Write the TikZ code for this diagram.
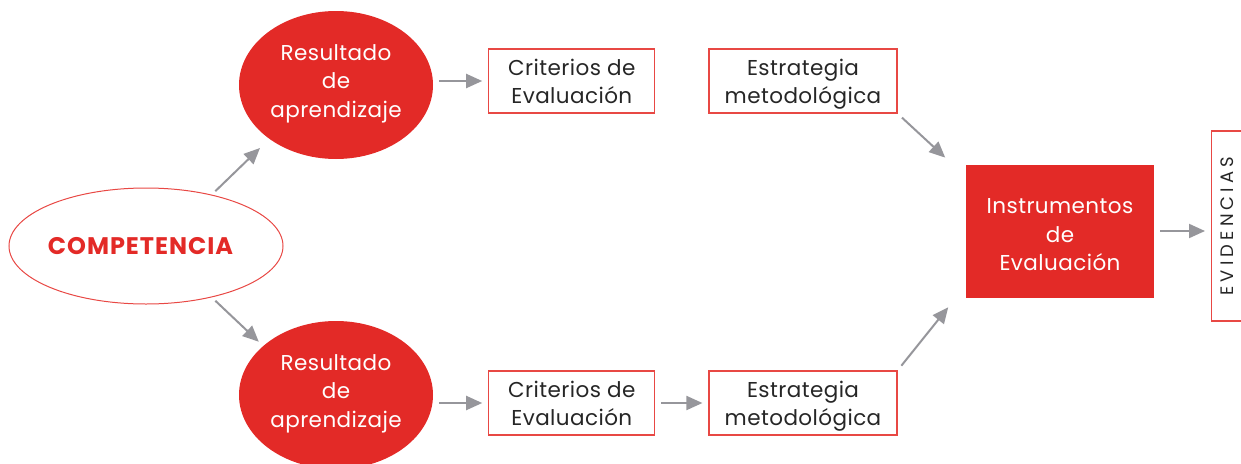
\documentclass[tikz,border=0pt]{standalone}
\usepackage{fontspec}
\setmainfont{Poppins}
\newfontfamily\fuente[LetterSpace=2]{Poppins}
\newfontfamily\fuentecomp[LetterSpace=4]{Poppins}
\newfontfamily\fuenteancha[LetterSpace=23]{Poppins}
\usetikzlibrary{positioning,shapes.geometric,arrows.meta}
\definecolor{rojo}{RGB}{227,42,39}
\definecolor{rojoclaro}{RGB}{232,72,68}
\definecolor{gris}{RGB}{150,150,155}

% texto en varias lineas, centrado y desplazado en vertical
\newcommand{\lineas}[2]{\raisebox{#1}[\height][\depth]{\begin{tabular}{@{}c@{}}#2\end{tabular}}}

\tikzset{
  letra/.style={font=\fuente\fontsize{21.5}{28.5}\selectfont},
  resultado/.style={ellipse, fill=rojo, text=white, inner sep=0pt, letra,
    minimum width=194pt, minimum height=148pt},
  caja/.style={letra, text=black!85, draw=rojoclaro, line width=1.2pt, inner sep=0pt,
    minimum height=64pt},
  flecha/.style={draw=gris, line width=2pt, -{Triangle[length=16pt,width=14pt]},
    shorten <=6pt, shorten >=6pt},
}

\begin{document}
\begin{tikzpicture}[x=1pt, y=-1pt]
  \useasboundingbox (0,0) rectangle (1241,463);

  % Competencia y resultados
  \node [ellipse, draw=rojoclaro, line width=1pt, minimum width=274pt, minimum height=116pt,
    inner sep=0pt, text=rojo, font=\fuentecomp\fontsize{24}{28}\selectfont\bfseries] (comp) at (146,246) {\hspace*{-11pt}COMPETENCIA};
  \node [resultado] (res1) at (336,85) {\lineas{2.2pt}{Resultado\\de\\aprendizaje}};
  \node [resultado] (res2) at (336,395) {\lineas{2.2pt}{Resultado\\de\\aprendizaje}};

  % Cajas
  \node [caja, minimum width=166pt, right=55pt of res1, yshift=4pt] (crit1) {\lineas{-2.8pt}{Criterios de\\Evaluación}};
  \node [caja, minimum width=188pt, right=53pt of crit1] (estr1) {\lineas{-2.8pt}{Estrategia\\metodológica}};
  \node [caja, minimum width=166pt, right=55pt of res2, yshift=-8pt] (crit2) {\lineas{-2.8pt}{Criterios de\\Evaluación}};
  \node [caja, minimum width=188pt, right=53pt of crit2] (estr2) {\lineas{-2.8pt}{Estrategia\\metodológica}};

  \node [fill=rojo, text=white, letra, minimum width=188pt, minimum height=133pt,
    inner sep=0pt] (instr) at (1060,231) {\lineas{-5.5pt}{Instrumentos\\de\\Evaluación}};
  \node [draw=rojoclaro, line width=1.2pt, text=black!85, rotate=90, anchor=north,
    minimum width=190pt, inner sep=0pt, text height=22.3pt, text depth=30pt,
    font=\fuenteancha\fontsize{18}{22}\selectfont] (evid) at (1211,226) {EVIDENCIAS};

  % Flechas
  \draw [flecha, shorten <=5pt, shorten >=13pt] (comp.38) -- (res1.219);
  \draw [flecha, shorten <=5pt, shorten >=6pt] (comp.-38) -- (res2.146);
  \draw [flecha] (res1.east |- crit1.west) -- (crit1);
  \draw [flecha] (res2.east |- crit2.west) -- (crit2);
  \draw [flecha] (crit2) -- (estr2);
  \draw [flecha, shorten >=28pt] (estr1.south east) -- (instr.150);
  \draw [flecha, shorten >=28pt] (estr2.north east) -- (instr.210);
  \draw [flecha] (instr) -- (instr -| evid.north);
\end{tikzpicture}
\end{document}
